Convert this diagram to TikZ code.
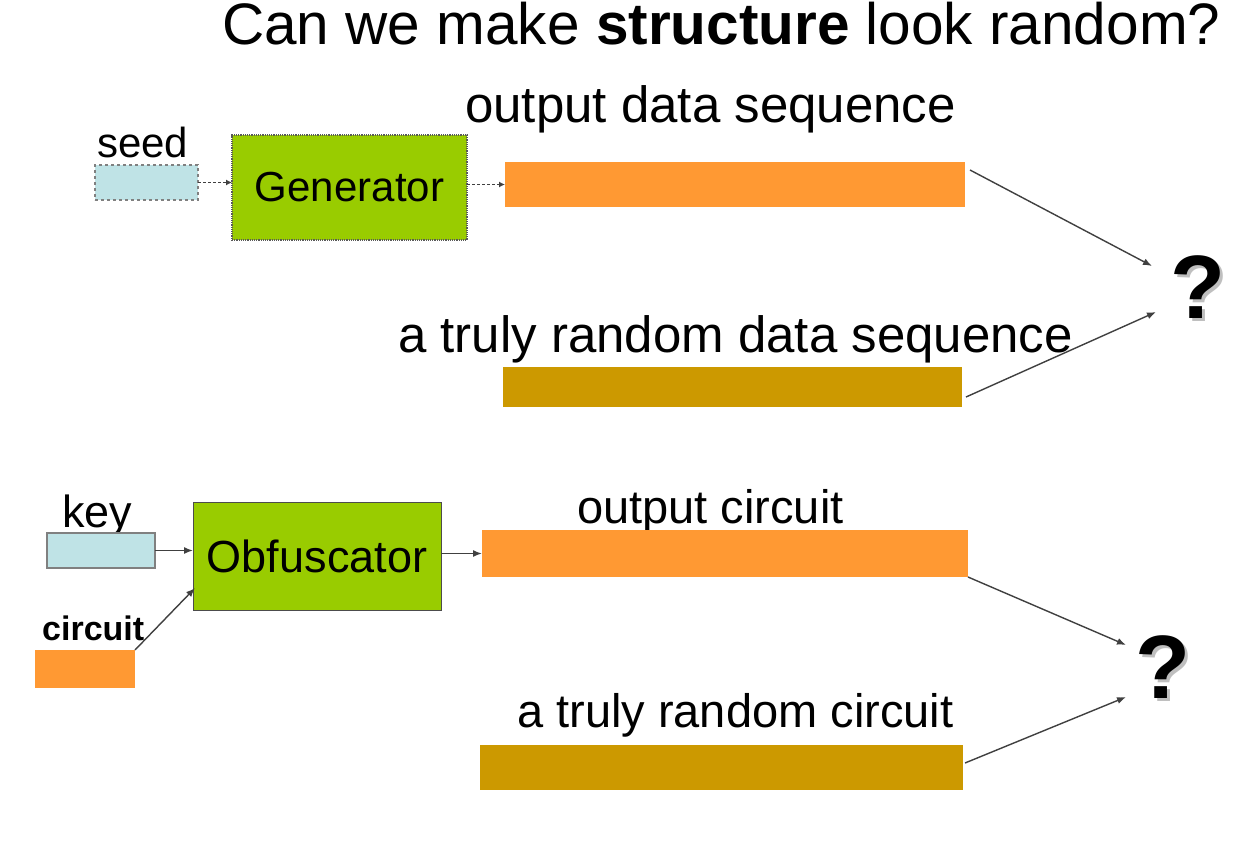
\documentclass[tikz,border=0pt]{standalone}
\usepackage{fontspec}
\setmainfont{Liberation Sans}
\usetikzlibrary{arrows.meta,calc}

\definecolor{barorange}{HTML}{FF9933}
\definecolor{bargold}{HTML}{CC9900}
\definecolor{boxgreen}{HTML}{99CC00}
\definecolor{boxblue}{HTML}{BFE3E6}
\definecolor{linegray}{HTML}{404040}

\newcommand{\fsz}[1]{\fontsize{#1}{#1}\selectfont}
% question mark with a soft grey shadow behind it
\newcommand{\shadowq}{\makebox[0pt][l]{\hspace{3pt}\raisebox{-3pt}{\color{black!25}?}}?}

\tikzset{
  x=1pt, y=-1pt,
  blk/.style={anchor=north west, inner sep=0pt, outer sep=0pt},
  bar/.style={blk, draw=none},
  lbl/.style={anchor=base west, inner sep=0pt, text=black},
  conn/.style={draw=linegray, line width=1.4pt, -{Latex[length=9pt,width=7pt]}},
  dconn/.style={draw=linegray, line width=1.2pt, dash pattern=on 3pt off 2pt,
    -{Latex[length=6pt,width=6pt]}},
  qmark/.style={inner sep=0pt, font=\fsz{90}\bfseries}
}

\begin{document}
\begin{tikzpicture}
\useasboundingbox (0,0) rectangle (1246,864);
\fill[white] (0,0) rectangle (1246,864);

% heading
\node[lbl, font=\fsz{58.5}] (title) at (222,45)
  {Can we make \textbf{structure} look random?};

% ---- pseudorandom generator ----
\node[lbl, font=\fsz{42}] (seedlbl) at (97,157) {seed};
\node[blk, fill=boxblue, draw=gray, dashed, line width=1.2pt,
  minimum width=103pt, minimum height=35pt] (seed) at (95,165) {};
\node[blk, fill=boxgreen, draw=gray!70!black, densely dotted, line width=1.2pt,
  minimum width=235pt, minimum height=105pt] (gen) at (232,135) {};
\node[font=\fsz{42}, inner sep=0pt] (genlbl) at (gen.center) {Generator};

\node[lbl, font=\fsz{51}] (outlbl) at (465,122) {output data sequence};
\node[bar, fill=barorange, minimum width=460pt, minimum height=45pt] (outbar) at (505,162) {};

\node[lbl, font=\fsz{51}] (randlbl) at (398,352) {a truly random data sequence};
\node[bar, fill=bargold, minimum width=459pt, minimum height=40pt] (randbar) at (503,367) {};

\node[qmark] (q1) at (1198,289) {\shadowq};
\coordinate (q1a) at (1152,266);
\coordinate (q1b) at (1156,312);

\draw[dconn] (seed.east) -- (seed.east -| gen.west);
\draw[dconn] (outbar.west -| gen.east) -- (outbar.west);
\draw[conn] ($(outbar.north east)+(5,8)$) -- (q1a);
\draw[conn] ($(randbar.south east)+(4,-10)$) -- (q1b);

% ---- obfuscator ----
\node[lbl, font=\fsz{45}] (keylbl) at (62,527) {key};
\node[blk, fill=boxblue, draw=gray, line width=1.2pt,
  minimum width=108pt, minimum height=35pt] (key) at (47,533) {};
\node[blk, fill=boxgreen, draw=gray!60!black, line width=0.8pt,
  minimum width=248pt, minimum height=108pt] (obf) at (193,502) {};
\node[font=\fsz{45}, inner sep=0pt] (obflbl) at (obf.center) {Obfuscator};

\node[lbl, font=\fsz{34}\bfseries] (circlbl) at (42,640) {circuit};
\node[bar, fill=barorange, minimum width=100pt, minimum height=38pt] (circ) at (35,650) {};

\node[lbl, font=\fsz{47}] (outclbl) at (577,523) {output circuit};
\node[bar, fill=barorange, minimum width=486pt, minimum height=47pt] (outc) at (482,530) {};

\node[lbl, font=\fsz{47}] (randclbl) at (517,727) {a truly random circuit};
\node[bar, fill=bargold, minimum width=483pt, minimum height=45pt] (randc) at (480,745) {};

\node[qmark] (q2) at (1163,669) {\shadowq};
\coordinate (q2a) at (1126,645);
\coordinate (q2b) at (1126,697);

\draw[conn] (key.east) -- (key.east -| obf.west);
\draw[conn] (outc.west -| obf.east) -- (outc.west);
\draw[conn] (circ.north east) -- ($(obf.south west)+(2,-22)$);
\draw[conn] (outc.south east) -- (q2a);
\draw[conn] ($(randc.south east)+(2,-27)$) -- (q2b);
\end{tikzpicture}
\end{document}
